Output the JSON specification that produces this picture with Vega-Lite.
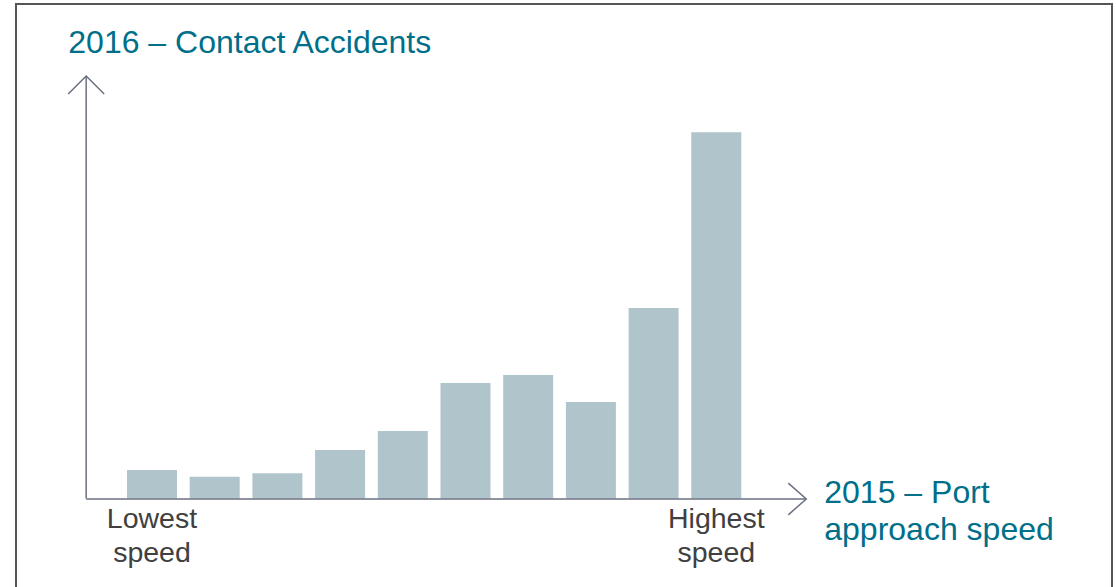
{
  "$schema": "https://vega.github.io/schema/vega-lite/v6.json",
  "width": 1096,
  "height": 590,
  "autosize": {"type": "none"},
  "padding": {"left": 16, "top": 4, "right": 4, "bottom": 0},
  "background": "white",
  "config": {
    "view": {"stroke": "#555555", "strokeWidth": 2},
    "font": "Liberation Sans",
    "mark": {"font": "Liberation Sans"},
    "text": {"font": "Liberation Sans"}
  },
  "data": {
    "values": [
      {"bin": 1, "accidents": 28.5},
      {"bin": 2, "accidents": 21.8},
      {"bin": 3, "accidents": 25.2},
      {"bin": 4, "accidents": 48.5},
      {"bin": 5, "accidents": 67.5},
      {"bin": 6, "accidents": 115.5},
      {"bin": 7, "accidents": 123.5},
      {"bin": 8, "accidents": 96.5},
      {"bin": 9, "accidents": 190.5},
      {"bin": 10, "accidents": 366.2}
    ]
  },
  "layer": [
    {
      "mark": {"type": "bar", "width": 50, "color": "#b0c4cc"},
      "encoding": {
        "x": {"field": "bin", "type": "quantitative", "scale": {"domain": [-1.169, 16.311], "nice": false, "zero": false, "padding": 0}, "axis": null},
        "y": {"field": "accidents", "type": "quantitative", "scale": {"domain": [-95.5, 494.5], "nice": false, "zero": false, "padding": 0}, "axis": null},
        "y2": {"datum": 0}
      }
    },
    {
      "data": {"values": [{}]},
      "mark": {"type": "rule", "color": "#6a7080", "strokeWidth": 1.5},
      "encoding": {
        "x": {"datum": -0.05, "type": "quantitative", "scale": {"domain": [-1.169, 16.311], "nice": false, "zero": false, "padding": 0}, "axis": null},
        "y": {"datum": 0, "type": "quantitative", "scale": {"domain": [-95.5, 494.5], "nice": false, "zero": false, "padding": 0}, "axis": null},
        "y2": {"datum": 422.5}
      }
    },
    {
      "data": {"values": [{}]},
      "mark": {"type": "rule", "color": "#6a7080", "strokeWidth": 1.5},
      "encoding": {
        "x": {"datum": -0.05, "type": "quantitative", "scale": {"domain": [-1.169, 16.311], "nice": false, "zero": false, "padding": 0}, "axis": null},
        "x2": {"datum": 11.435},
        "y": {"datum": -0.5, "type": "quantitative", "scale": {"domain": [-95.5, 494.5], "nice": false, "zero": false, "padding": 0}, "axis": null}
      }
    },
    {
      "data": {"values": [{}]},
      "mark": {"type": "point", "shape": "M-1,1L0,0L1,1", "size": 1296, "filled": false, "color": "#6a7080", "strokeWidth": 1.5, "opacity": 1},
      "encoding": {
        "x": {"datum": -0.05, "type": "quantitative", "scale": {"domain": [-1.169, 16.311], "nice": false, "zero": false, "padding": 0}, "axis": null},
        "y": {"datum": 422.5, "type": "quantitative", "scale": {"domain": [-95.5, 494.5], "nice": false, "zero": false, "padding": 0}, "axis": null}
      }
    },
    {
      "data": {"values": [{}]},
      "mark": {"type": "point", "shape": "M-1,-0.88L0,0L-1,0.88", "size": 1296, "filled": false, "color": "#6a7080", "strokeWidth": 1.5, "opacity": 1},
      "encoding": {
        "x": {"datum": 11.435, "type": "quantitative", "scale": {"domain": [-1.169, 16.311], "nice": false, "zero": false, "padding": 0}, "axis": null},
        "y": {"datum": -0.5, "type": "quantitative", "scale": {"domain": [-95.5, 494.5], "nice": false, "zero": false, "padding": 0}, "axis": null}
      }
    },
    {
      "data": {"values": [{"bin": 1, "label": "Lowest\nspeed"}, {"bin": 10, "label": "Highest\nspeed"}]},
      "mark": {"type": "text", "font": "Liberation Sans", "align": "center", "baseline": "alphabetic", "fontSize": 28.5, "lineHeight": 34, "lineBreak": "\n", "color": "#404040"},
      "encoding": {
        "x": {"field": "bin", "type": "quantitative", "scale": {"domain": [-1.169, 16.311], "nice": false, "zero": false, "padding": 0}, "axis": null},
        "y": {"datum": -29.5, "type": "quantitative", "scale": {"domain": [-95.5, 494.5], "nice": false, "zero": false, "padding": 0}, "axis": null},
        "text": {"field": "label"}
      }
    },
    {
      "data": {"values": [{"label": "2016 – Contact Accidents"}]},
      "mark": {"type": "text", "font": "Liberation Sans", "align": "left", "baseline": "alphabetic", "fontSize": 32, "color": "#006f8a"},
      "encoding": {
        "x": {"datum": -0.335, "type": "quantitative", "scale": {"domain": [-1.169, 16.311], "nice": false, "zero": false, "padding": 0}, "axis": null},
        "y": {"datum": 445.5, "type": "quantitative", "scale": {"domain": [-95.5, 494.5], "nice": false, "zero": false, "padding": 0}, "axis": null},
        "text": {"field": "label"}
      }
    },
    {
      "data": {"values": [{"label": "2015 – Port\napproach speed"}]},
      "mark": {"type": "text", "font": "Liberation Sans", "align": "left", "baseline": "alphabetic", "fontSize": 32, "lineHeight": 37, "lineBreak": "\n", "color": "#006f8a"},
      "encoding": {
        "x": {"datum": 11.722, "type": "quantitative", "scale": {"domain": [-1.169, 16.311], "nice": false, "zero": false, "padding": 0}, "axis": null},
        "y": {"datum": -4.5, "type": "quantitative", "scale": {"domain": [-95.5, 494.5], "nice": false, "zero": false, "padding": 0}, "axis": null},
        "text": {"field": "label"}
      }
    }
  ]
}
